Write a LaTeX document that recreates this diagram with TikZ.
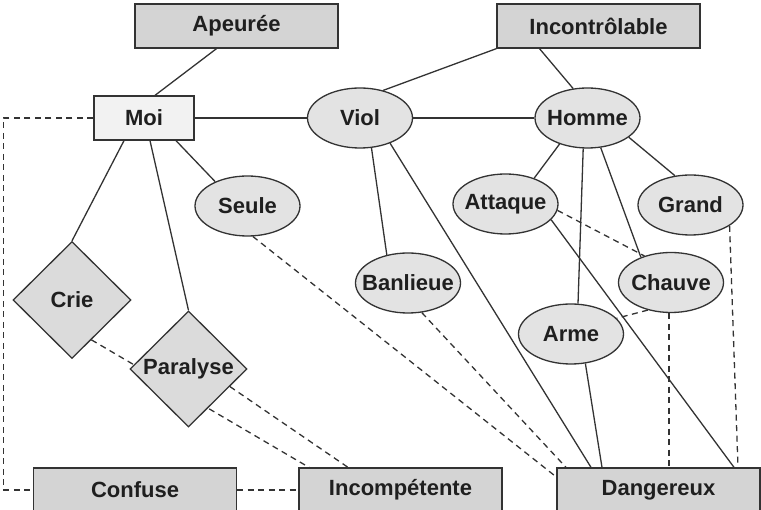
\documentclass[tikz,border=0pt]{standalone}
\usepackage{fontspec}
\setmainfont{Liberation Sans}
\usetikzlibrary{shapes,backgrounds,calc}
\pgfdeclarelayer{background}
\pgfsetlayers{background,main}

\definecolor{trait}{gray}{0.2}
\definecolor{boite}{gray}{0.83}
\definecolor{bulle}{gray}{0.89}
\definecolor{losangefond}{gray}{0.86}

\begin{document}
\begin{tikzpicture}[x=1pt,y=-1pt,
  every node/.style={font=\fontsize{22}{26}\selectfont\bfseries,text=black!88,draw=trait,line width=1.3pt},
  box/.style={rectangle,fill=boite,minimum width=203pt,minimum height=44pt},
  moibox/.style={rectangle,fill=black!5,minimum width=100pt,minimum height=44pt},
  oval/.style={ellipse,fill=bulle,inner xsep=-13pt,inner ysep=0pt,minimum width=105pt,minimum height=60pt},
  losange/.style={diamond,aspect=1,fill=losangefond,inner sep=0pt,minimum width=118pt,minimum height=117pt},
  lien/.style={draw=trait,line width=1.3pt},
  pointille/.style={draw=trait,line width=1.3pt,dash pattern=on 6pt off 4.5pt}]
  \useasboundingbox (0,0) rectangle (761,510);

  % attributs en haut et en bas
  \node[box] (apeuree) at (236.5,26) {Apeurée};
  \node[box] (incontrolable) at (598.5,26) {Incontrôlable};
  \node[box] (confuse) at (135,490) {Confuse};
  \node[box] (incompetente) at (400.5,490) {Incompétente};
  \node[box] (dangereux) at (658.5,490) {Dangereux};

  \node[moibox] (moi) at (144,118) {Moi};
  \node[oval] (viol) at (360,118) {Viol};
  \node[oval] (homme) at (587.5,118) {Homme};
  \node[oval] (seule) at (247.5,206) {Seule};
  \node[oval] (attaque) at (505.5,204) {Attaque};
  \node[oval] (grand) at (690.5,205) {Grand};
  \node[oval] (banlieue) at (408,283) {Banlieue};
  \node[oval] (chauve) at (671,282.5) {Chauve};
  \node[oval] (arme) at (571,334) {Arme};
  \node[losange] (crie) at (72,300) {Crie};
  \node[losange,minimum width=117pt,minimum height=116pt] (paralyse) at (188.5,369) {Paralyse};

  \begin{pgfonlayer}{background}
  \path[lien]
    ([xshift=-20pt]apeuree.south) edge ([xshift=11pt]moi.north)
    (incontrolable.south west) edge (viol.50)
    ([xshift=-59pt]incontrolable.south) edge (homme.116)
    (moi.east) edge (viol.west)
    (viol.east) edge (homme.west)
    ([xshift=-20pt]moi.south) edge (crie.north)
    ([xshift=6pt]moi.south) edge (paralyse.north)
    ([xshift=32pt]moi.south) edge (seule.143)
    (viol.-69) edge (banlieue.127)
    (viol.-40) edge ([xshift=-67.5pt]dangereux.north)
    (homme.-137) edge (attaque.42)
    (homme.-98) edge (arme.77)
    (homme.-66) edge (chauve.140)
    (homme.-25) edge (grand.118)
    (attaque.-19) edge ([xshift=75.5pt]dangereux.north)
    (arme.-64) edge ([xshift=-56.5pt]dangereux.north);
  \draw[pointille] (moi.west) -- ++(-90,0) |- (confuse.west);
  \path[pointille]
    (confuse.east) edge (incompetente.west)
    (crie.-64) edge ([xshift=-91.5pt]incompetente.north)
    (paralyse.-23) edge ([xshift=-52.5pt]incompetente.north)
    (seule.-80) edge ([yshift=13pt]dangereux.west)
    (banlieue.-65) edge ([xshift=-92.5pt]dangereux.north)
    (attaque.-7) edge (chauve.135)
    (chauve.-130) edge (arme.19)
    ([xshift=-2pt]chauve.south) edge ([xshift=10.5pt]dangereux.north)
    (grand.-28) edge ([xshift=79.5pt]dangereux.north);
  \end{pgfonlayer}
\end{tikzpicture}
\end{document}
